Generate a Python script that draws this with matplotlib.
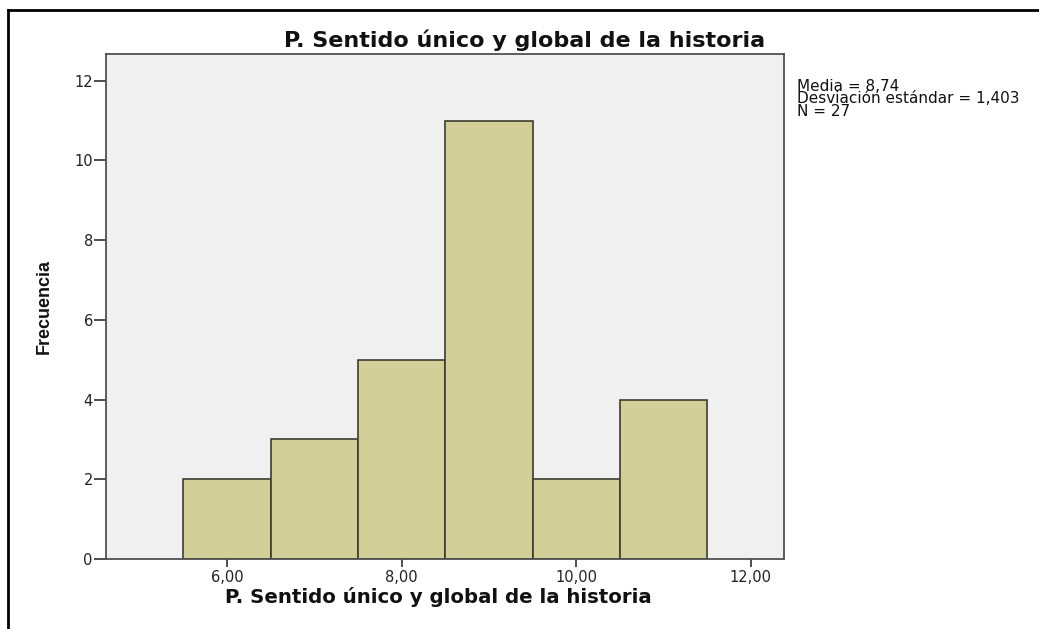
import matplotlib
matplotlib.use("Agg")
import matplotlib.pyplot as plt
from matplotlib.lines import Line2D

bin_centers = [6, 7, 8, 9, 10, 11]
counts = [2, 3, 5, 11, 2, 4]
x_ticks = [6, 8, 10, 12]
x_tick_labels = ["6,00", "8,00", "10,00", "12,00"]
y_ticks = [0, 2, 4, 6, 8, 10, 12]
title = "P. Sentido único y global de la historia"
xlabel = "P. Sentido único y global de la historia"
ylabel = "Frecuencia"
stats_text = "Media = 8,74\nDesviación estándar = 1,403\nN = 27"

W, H = 1039, 629
fig = plt.figure(figsize=(W / 100, H / 100), dpi=100)
fig.patch.set_facecolor("white")

left, right, top, bottom = 106, 784, 54, 559
ax = fig.add_axes([left / W, 1 - bottom / H, (right - left) / W, (bottom - top) / H])
ax.set_facecolor("#f0f0f0")

ax.bar(bin_centers, counts, width=1.0, color="#d3cf98", edgecolor="#3d3d30",
       linewidth=1.2, zorder=2)

ax.set_xlim(4.614, 12.38)
ax.set_ylim(0, 12.67)
ax.set_xticks(x_ticks)
ax.set_xticklabels(x_tick_labels, family="DejaVu Sans", fontsize=10.5, color="#222222")
ax.set_yticks(y_ticks)
ax.set_yticklabels([str(v) for v in y_ticks], family="DejaVu Sans", fontsize=10.5, color="#222222")
ax.tick_params(axis="y", length=9, width=1.3, pad=0.5, color="#404040")
ax.tick_params(axis="x", length=6, width=1.3, pad=2, color="#404040")

for s in ax.spines.values():
    s.set_color("#505050")
    s.set_linewidth(1.3)

fig.text(438 / W, 1 - 597 / H, xlabel, ha="center", va="center",
         family="DejaVu Sans", fontweight="bold", fontsize=14.2, color="#111111")

fig.text(44.5 / W, 1 - 306 / H, ylabel, ha="center", va="center", rotation=90,
         family="Liberation Sans", fontweight="bold", fontsize=13, color="#111111")

fig.text(525 / W, 1 - 40 / H, title, ha="center", va="center",
         family="DejaVu Sans", fontweight="bold", fontsize=16, color="#111111")

fig.text(797 / W, 1 - 79 / H, stats_text, ha="left", va="top",
         family="DejaVu Sans", fontsize=11, linespacing=0.78, color="#111111")

# outer frame (left and top edges visible)
fig.add_artist(Line2D([8 / W, 8 / W], [0, 1 - 10 / H], transform=fig.transFigure,
                      color="black", linewidth=2))
fig.add_artist(Line2D([8 / W, 1], [1 - 10 / H, 1 - 10 / H], transform=fig.transFigure,
                      color="black", linewidth=2))

fig.savefig("out.png", dpi=100)
